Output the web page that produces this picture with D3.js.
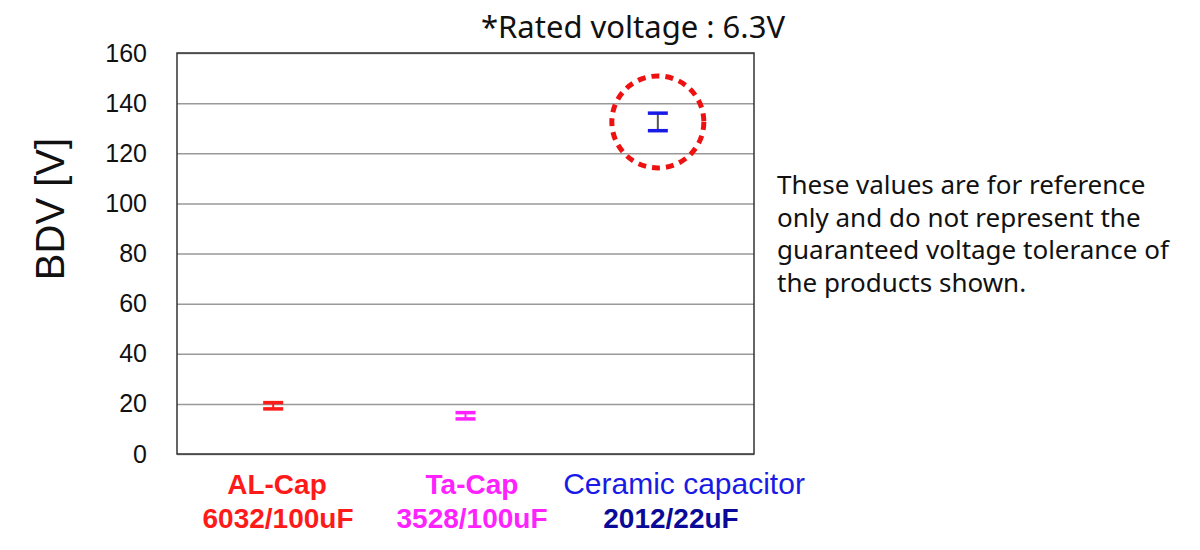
<!DOCTYPE html>
<html>
<head>
<meta charset="utf-8">
<script src="https://cdn.jsdelivr.net/npm/d3@7"></script>
<style>
  body { margin: 0; background: #fff; }
  svg { display: block; }
</style>
</head>
<body>
<svg id="chart" width="1200" height="550"></svg>
<script>
// data
const categories = ["AL-Cap", "Ta-Cap", "Ceramic capacitor"];
const subLabels = ["6032/100uF", "3528/100uF", "2012/22uF"];
const bdvMin = [18, 14, 129];
const bdvMax = [20.5, 16.5, 136];
const colors = ["#ff1a1a", "#ff22ff", "#1a1ae6"];
const subColors = ["#ff1a1a", "#ff22ff", "#0a0a99"];
const yTicks = [0, 20, 40, 60, 80, 100, 120, 140, 160];
const noteLines = [
    "These values are for reference",
    "only and do not represent the",
    "guaranteed voltage tolerance of",
    "the products shown."
];

const svg = d3.select("#chart");
const margin = {left: 177, right: 446, top: 53, bottom: 96};
const width = 1200 - margin.left - margin.right;
const height = 550 - margin.top - margin.bottom;

const x = d3.scaleBand().domain(categories).range([0, width]);
const y = d3.scaleLinear().domain([0, 160]).range([height, 0]);

const g = svg.append("g").attr("transform", `translate(${margin.left},${margin.top})`);

// gridlines
g.append("g")
    .call(d3.axisLeft(y).tickValues(yTicks).tickSize(-width).tickFormat(""))
    .call(s => s.select(".domain").remove())
    .selectAll("line").attr("stroke", "#999").attr("stroke-width", 1.5);

// frame
g.append("rect")
    .attr("width", width).attr("height", height)
    .attr("fill", "none").attr("stroke", "#333").attr("stroke-width", 1.5);

// y axis labels
g.append("g")
    .call(d3.axisLeft(y).tickValues(yTicks).tickSize(0).tickPadding(30))
    .call(s => s.select(".domain").remove())
    .selectAll("text")
    .attr("font-family", "Liberation Sans, Arial, sans-serif")
    .attr("font-size", 25).attr("fill", "#111");

svg.append("text")
    .attr("transform", "translate(64,209) rotate(-90)")
    .attr("text-anchor", "middle")
    .attr("font-family", "Liberation Sans, Arial, sans-serif")
    .attr("font-size", 40).attr("fill", "#111")
    .text("BDV [V]");

// error bars
const bars = g.selectAll(".bar").data(categories).enter().append("g").attr("class", "bar");
const cx = (d) => x(d) + x.bandwidth() / 2;
bars.append("line")
    .attr("x1", cx).attr("x2", cx)
    .attr("y1", (d, i) => y(bdvMax[i])).attr("y2", (d, i) => y(bdvMin[i]))
    .attr("stroke", (d, i) => i == 2 ? "#555" : colors[i]).attr("stroke-width", 2);
[bdvMin, bdvMax].forEach(arr => {
    bars.append("line")
        .attr("x1", d => cx(d) - 10).attr("x2", d => cx(d) + 10)
        .attr("y1", (d, i) => y(arr[i])).attr("y2", (d, i) => y(arr[i]))
        .attr("stroke", (d, i) => colors[i]).attr("stroke-width", 3.5);
});

// dotted circle around ceramic
const c = categories[2];
g.append("circle")
    .attr("cx", cx(c))
    .attr("cy", y((bdvMin[2] + bdvMax[2]) / 2))
    .attr("r", 46)
    .attr("fill", "none")
    .attr("stroke", "#ee1111").attr("stroke-width", 5)
    .attr("stroke-dasharray", "8 6");

// category labels
const labelX = [277, 472, 684];
const subX = [278, 472, 671];
categories.forEach((d, i) => {
    svg.append("text")
        .attr("x", labelX[i]).attr("y", 494)
        .attr("text-anchor", "middle")
        .attr("font-family", "Liberation Sans, Arial, sans-serif")
        .attr("font-size", i == 2 ? 30 : 28)
        .attr("font-weight", i == 2 ? "normal" : "bold")
        .attr("fill", colors[i])
        .text(d);
    svg.append("text")
        .attr("x", subX[i]).attr("y", 528)
        .attr("text-anchor", "middle")
        .attr("font-family", "Liberation Sans, Arial, sans-serif")
        .attr("font-size", 28).attr("font-weight", "bold")
        .attr("fill", subColors[i])
        .text(subLabels[i]);
});

// title
svg.append("text")
    .attr("x", 633).attr("y", 38)
    .attr("text-anchor", "middle")
    .attr("font-family", "Noto Sans, sans-serif")
    .attr("font-size", 31).attr("fill", "#111")
    .text("*Rated voltage : 6.3V");

// note
svg.append("g").selectAll("text").data(noteLines).enter().append("text")
    .attr("x", 777).attr("y", (d, i) => 194 + i * 32.5)
    .attr("font-family", "Noto Sans, sans-serif")
    .attr("font-size", 26).attr("fill", "#111")
    .text(d => d);
</script>
</body>
</html>
